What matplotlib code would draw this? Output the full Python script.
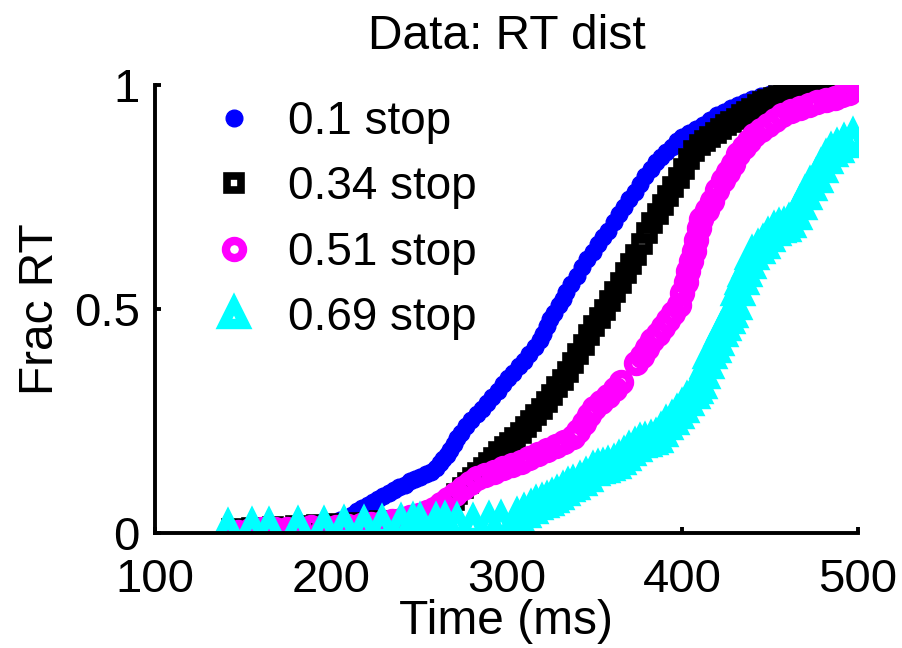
import matplotlib
matplotlib.use("Agg")
import matplotlib.pyplot as plt

plt.rcParams['font.family'] = ['Liberation Sans', 'DejaVu Sans']

labels = ["0.1 stop", "0.34 stop", "0.51 stop", "0.69 stop"]

# Cumulative RT distributions: response time (ms) and fraction of trials
t_01 = [150, 158, 166, 174, 182, 190, 196, 201, 205, 209, 212, 215, 218, 221,
        224, 227, 230, 233, 236, 239, 242, 245, 248, 251, 254, 257, 260, 262,
        264, 266, 268, 270, 272, 274, 277, 280, 283, 286, 289, 292, 295, 298,
        301, 304, 307, 310, 313, 316, 319, 321, 323, 325, 327, 330, 332, 334,
        337, 340, 343, 346, 349, 352, 355, 358, 361, 364, 367, 370, 373, 376,
        379, 382, 385, 388, 391, 394, 397, 400, 404, 408, 412, 416, 420, 424,
        428, 432, 436, 440, 445, 450, 456, 462, 468, 474, 480, 485]
f_01 = [0.005, 0.007, 0.009, 0.011, 0.013, 0.016, 0.019, 0.023, 0.028, 0.034,
        0.041, 0.048, 0.056, 0.062, 0.069, 0.076, 0.083, 0.089, 0.095, 0.102,
        0.108, 0.115, 0.121, 0.126, 0.131, 0.136, 0.145, 0.156, 0.166, 0.175,
        0.186, 0.198, 0.212, 0.224, 0.238, 0.252, 0.265, 0.277, 0.290, 0.303,
        0.317, 0.332, 0.345, 0.358, 0.372, 0.385, 0.400, 0.415, 0.430, 0.445,
        0.462, 0.478, 0.492, 0.508, 0.522, 0.537, 0.555, 0.573, 0.594, 0.612,
        0.628, 0.645, 0.660, 0.675, 0.695, 0.712, 0.728, 0.745, 0.762, 0.780,
        0.797, 0.813, 0.828, 0.840, 0.850, 0.862, 0.874, 0.884, 0.894, 0.902,
        0.911, 0.922, 0.932, 0.940, 0.948, 0.956, 0.963, 0.969, 0.975, 0.981,
        0.986, 0.990, 0.994, 0.997, 0.999, 1.000]

t_034 = [144, 155, 167, 180, 192, 204, 216, 228, 240, 250, 258, 263, 266, 268,
         270, 272, 275, 278, 281, 284, 287, 290, 293, 296, 299, 302, 305, 308,
         311, 314, 317, 320, 323, 326, 329, 332, 335, 338, 341, 344, 347, 350,
         353, 356, 359, 362, 365, 368, 371, 374, 377, 380, 383, 386, 389, 392,
         395, 398, 401, 404, 407, 410, 413, 416, 419, 422, 425, 428, 431, 434,
         437, 440, 443, 446, 449, 452, 455, 458, 461, 464, 467, 470, 474, 478,
         482, 486, 490, 493]
f_034 = [0.010, 0.011, 0.013, 0.015, 0.017, 0.020, 0.023, 0.026, 0.029, 0.033,
         0.038, 0.044, 0.052, 0.062, 0.074, 0.088, 0.100, 0.111, 0.123, 0.134,
         0.145, 0.156, 0.168, 0.180, 0.191, 0.201, 0.211, 0.223, 0.236, 0.250,
         0.263, 0.277, 0.293, 0.309, 0.325, 0.342, 0.360, 0.380, 0.400, 0.420,
         0.442, 0.462, 0.480, 0.498, 0.518, 0.538, 0.558, 0.580, 0.600, 0.620,
         0.645, 0.670, 0.693, 0.712, 0.732, 0.752, 0.772, 0.792, 0.812, 0.835,
         0.852, 0.865, 0.876, 0.885, 0.893, 0.902, 0.910, 0.918, 0.925, 0.932,
         0.939, 0.946, 0.955, 0.962, 0.967, 0.971, 0.975, 0.979, 0.982, 0.985,
         0.987, 0.989, 0.991, 0.994, 0.996, 0.998, 0.999, 1.000]

t_051 = [147, 154, 161, 168, 175, 182, 189, 196, 203, 210, 217, 223, 229, 235,
         240, 245, 250, 255, 259, 263, 267, 271, 275, 279, 283, 288, 293, 298,
         303, 308, 313, 318, 323, 328, 333, 338, 341, 344, 347, 350, 354, 358,
         362, 365, 374, 377, 380, 383, 386, 389, 392, 395, 398, 400, 402, 403.5,
         405, 406.5, 408, 409.5, 411, 414, 417, 420, 423, 426, 429, 432, 435,
         438, 441, 445, 449, 453, 457, 462, 467, 472, 477, 482, 487, 491, 495]
f_051 = [0.003, 0.006, 0.008, 0.009, 0.010, 0.012, 0.013, 0.013, 0.014, 0.015,
         0.017, 0.019, 0.022, 0.026, 0.030, 0.035, 0.040, 0.047, 0.054, 0.064,
         0.076, 0.088, 0.100, 0.112, 0.122, 0.130, 0.137, 0.144, 0.151, 0.159,
         0.167, 0.176, 0.185, 0.195, 0.204, 0.214, 0.228, 0.245, 0.263, 0.278,
         0.292, 0.305, 0.322, 0.336, 0.380, 0.395, 0.412, 0.430, 0.445, 0.460,
         0.475, 0.490, 0.510, 0.535, 0.560, 0.585, 0.607, 0.630, 0.655, 0.680,
         0.700, 0.720, 0.742, 0.765, 0.787, 0.806, 0.824, 0.845, 0.862, 0.876,
         0.888, 0.900, 0.911, 0.922, 0.932, 0.941, 0.948, 0.955, 0.961, 0.967,
         0.972, 0.977, 0.982]

t_069 = [141.5, 155, 165, 181.5, 196, 207.5, 219, 229, 240, 247, 251, 260, 265,
         272, 281, 290, 297, 306, 310, 314, 317, 320, 323, 326, 329, 332, 335,
         338, 342, 345, 349, 352, 355, 358, 361, 364, 367, 370, 373, 376, 379,
         382, 385, 388, 391, 394, 397, 400, 403, 406, 408, 410, 412, 414, 416,
         418, 420, 422, 424, 426, 428, 430, 432, 434, 436, 438, 440, 443, 446,
         449, 452, 455, 458, 461, 464, 467, 470, 473, 476, 479, 482, 485, 488,
         492, 497]
f_069 = [0.012, 0.014, 0.014, 0.016, 0.016, 0.018, 0.018, 0.020, 0.022, 0.024,
         0.025, 0.025, 0.027, 0.025, 0.022, 0.027, 0.028, 0.036, 0.044, 0.054,
         0.062, 0.066, 0.071, 0.078, 0.085, 0.094, 0.102, 0.108, 0.116, 0.126,
         0.138, 0.142, 0.145, 0.150, 0.154, 0.163, 0.172, 0.183, 0.192, 0.200,
         0.203, 0.207, 0.212, 0.225, 0.240, 0.253, 0.266, 0.280, 0.295, 0.310,
         0.322, 0.333, 0.355, 0.377, 0.400, 0.413, 0.428, 0.448, 0.462, 0.477,
         0.490, 0.510, 0.540, 0.565, 0.583, 0.600, 0.620, 0.633, 0.646, 0.660,
         0.674, 0.680, 0.683, 0.692, 0.710, 0.732, 0.755, 0.775, 0.792, 0.815,
         0.835, 0.850, 0.860, 0.870, 0.884]

fig = plt.figure(figsize=(9.03, 6.48), dpi=100)
ax = fig.add_axes([0.1717, 0.1775, 0.7783, 0.6913])

ax.plot(t_01, f_01, linestyle='none', marker='o', markersize=12,
        markerfacecolor=(0, 0, 1), markeredgecolor=(0, 0, 1), markeredgewidth=1,
        label=labels[0])
ax.plot(t_034, f_034, linestyle='none', marker='s', markersize=10.5,
        markerfacecolor='none', markeredgecolor='k', markeredgewidth=5.5,
        label=labels[1])
ax.plot(t_051, f_051, linestyle='none', marker='o', markersize=12.3,
        markerfacecolor='none', markeredgecolor=(1, 0, 1), markeredgewidth=6.0,
        label=labels[2])
ax.plot(t_069, f_069, linestyle='none', marker='^', markersize=14,
        markerfacecolor='none', markeredgecolor=(0, 1, 1), markeredgewidth=7.5,
        label=labels[3])

ax.set_xlim(100, 500)
ax.set_ylim(0, 1)
ax.set_xticks([100, 200, 300, 400, 500])
ax.set_yticks([0, 0.5, 1])
ax.set_yticklabels(["0", "0.5", "1"])

for side in ('top', 'right'):
    ax.spines[side].set_visible(False)
for side in ('left', 'bottom'):
    ax.spines[side].set_linewidth(2.8)
ax.tick_params(direction='in', length=4, width=2.8, labelsize=34)
ax.tick_params(axis='x', pad=18)
ax.tick_params(axis='y', pad=11)

ax.set_title("Data: RT dist", fontsize=34.5, pad=26)
ax.set_xlabel("Time (ms)", fontsize=34.5, labelpad=-2)
ax.set_ylabel("Frac RT", fontsize=34.5, labelpad=8)

leg = ax.legend(loc='upper left', bbox_to_anchor=(0.053, 1.008), frameon=False,
                fontsize=33, numpoints=1, handlelength=1.0, handletextpad=0.68,
                labelspacing=0.47, borderaxespad=0.0)

fig.savefig("out.png", dpi=100)
